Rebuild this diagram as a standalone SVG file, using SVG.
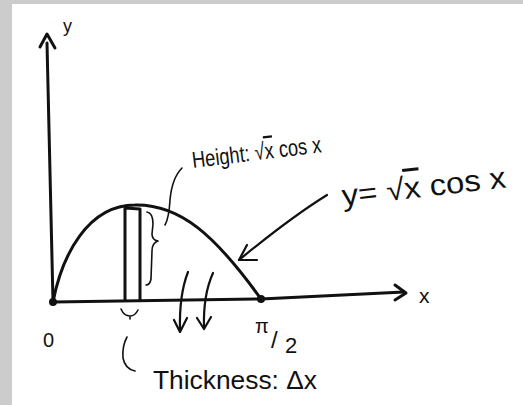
<svg xmlns="http://www.w3.org/2000/svg" width="523" height="405" viewBox="0 0 523 405">
<style>
.ink{fill:none;stroke:#111;stroke-linecap:round;stroke-linejoin:round}
.heavy{stroke-width:3}
.mid{stroke-width:2.2}
.thin{stroke-width:1.6}
.txt{font-family:"Liberation Sans","DejaVu Sans",sans-serif;fill:#111}
</style>
<rect x="0" y="0" width="523" height="405" fill="#cccccc"/>
<rect x="12" y="4" width="511" height="401" fill="#ffffff"/>

<g id="connectors">
  <g id="y-axis">
    <path class="ink heavy" d="M53,302 L47,43"/>
    <polyline class="ink heavy" points="40,47 47,34 55,48"/>
  </g>
  <g id="x-axis">
    <path class="ink heavy" d="M53,302 L261,299 L404,292"/>
    <polyline class="ink heavy" points="395,285 406,293 395,300"/>
  </g>
  <g id="arrow-to-curve">
    <path class="ink mid" d="M327,195 Q290,218 239,260"/>
    <polyline class="ink mid" points="247,245 239,260 257,260"/>
  </g>
  <g id="down-arrows">
    <path class="ink mid" d="M188,272 Q179,295 180,331"/>
    <polyline class="ink mid" points="174,320 180,332 187,318"/>
    <path class="ink mid" d="M213,273 Q203,295 204,328"/>
    <polyline class="ink mid" points="197,318 204,329 211,317"/>
  </g>
  <g id="height-leader">
    <path class="ink thin" d="M182,168 Q172,178 170,200 Q169,218 165,225"/>
  </g>
  <g id="thickness-leader">
    <path class="ink thin" d="M121,309 Q124,316 130,316 Q135,316 138,310 M130,316 L130,319"/>
    <path class="ink thin" d="M127,337 Q122,346 123,358 Q125,369 135,371"/>
  </g>
</g>

<g id="curve">
  <path class="ink heavy" d="M53,302 C62,255 88,205 135,205 C180,204 215,235 261,299"/>
</g>

<g id="slice">
  <path class="ink heavy" d="M125,300 L125,208 L140,209 L140,300"/>
  <path class="ink thin" d="M147,212 Q153,213 153,224 L152,234 Q152,240 158,241 Q152,243 152,251 L151,279 Q150,285 146,285"/>
</g>

<g id="points">
  <circle cx="53" cy="302" r="4" fill="#111"/>
  <circle cx="261" cy="299" r="4" fill="#111"/>
</g>

<g id="labels">
  <text class="txt" x="63" y="32" font-size="18">y</text>
  <text class="txt" x="419" y="303" font-size="21">x</text>
  <text class="txt" x="43" y="347" font-size="20">0</text>
  <text class="txt"><tspan x="255" y="333" font-size="20">π</tspan><tspan x="271" y="348" font-size="24">/</tspan><tspan x="285" y="353" font-size="22">2</tspan></text>
  <text class="txt" x="193" y="168" font-size="23" textLength="130" lengthAdjust="spacingAndGlyphs" transform="rotate(-7 193 168)">Height: √<tspan text-decoration="overline">x</tspan> cos x</text>
  <text class="txt" x="343" y="206" font-size="30" textLength="165" lengthAdjust="spacingAndGlyphs" transform="rotate(-6.5 343 206)">y= √<tspan text-decoration="overline">x</tspan> cos x</text>
  <text class="txt" x="153" y="389" font-size="26" textLength="164" lengthAdjust="spacingAndGlyphs">Thickness: Δx</text>
</g>
</svg>
